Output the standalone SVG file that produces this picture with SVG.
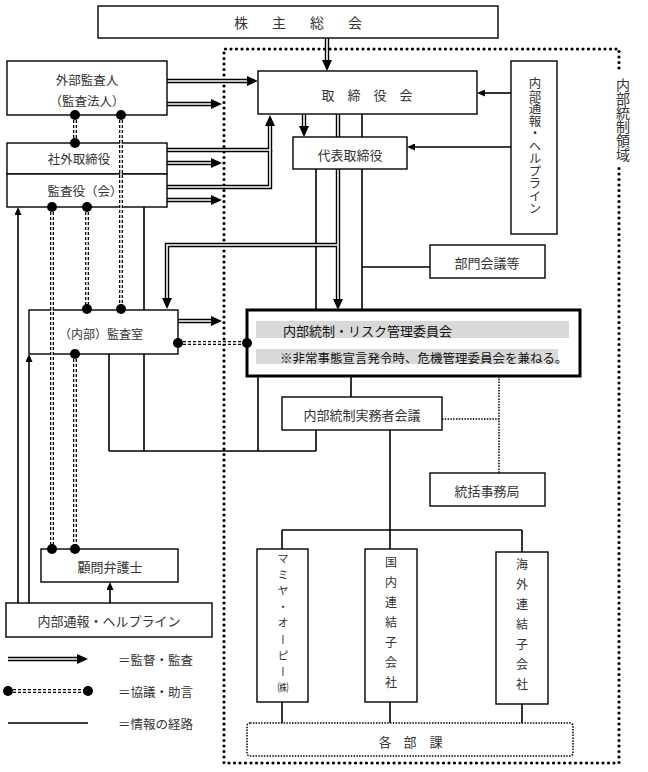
<svg xmlns="http://www.w3.org/2000/svg" width="648" height="772" viewBox="0 0 648 772">
<defs>
<style>
.box{fill:#fff;stroke:#000;stroke-width:1.4}
.t{font-family:"Noto Sans CJK JP","Noto Sans CJK SC",sans-serif;font-size:13px;fill:#333;text-anchor:middle;dominant-baseline:central}
.ts{font-family:"Noto Sans CJK JP","Noto Sans CJK SC",sans-serif;font-size:13px;fill:#222;dominant-baseline:central}
.v{font-family:"Noto Sans CJK JP","Noto Sans CJK SC",sans-serif;writing-mode:vertical-rl;fill:#333;font-size:12.5px}
.ln{fill:none;stroke:#000;stroke-width:1.6}
.dblo{fill:none;stroke:#000;stroke-width:4.4}
.dbli{fill:none;stroke:#fff;stroke-width:1.6}
.cso{fill:none;stroke:#000;stroke-width:4;stroke-dasharray:3 2}
.csi{fill:none;stroke:#fff;stroke-width:1.4}
.fd{fill:none;stroke:#000;stroke-width:1.5;stroke-dasharray:1.5 1.3}
.border{fill:none;stroke:#000;stroke-width:3.2;stroke-linecap:round;stroke-dasharray:0 5.5}
.gray{fill:#d9d9d9;stroke:none}
</style>
<marker id="ah" markerUnits="userSpaceOnUse" viewBox="0 -5 11 10" refX="0" refY="0" markerWidth="11" markerHeight="10" orient="auto"><path d="M0,-5L11,0L0,5z" fill="#000"/></marker>
<marker id="as" markerUnits="userSpaceOnUse" viewBox="0 -3.5 8 7" refX="0" refY="0" markerWidth="8" markerHeight="7" orient="auto"><path d="M0,-3.5L8,0L0,3.5z" fill="#000"/></marker>
</defs>
<rect width="648" height="772" fill="#fff"/>

<g id="region">
<path class="border" d="M619,68V49H224V763H619V167"/>
<text class="v" x="623" y="78" style="font-size:14px">内部統制領域</text>
</g>

<g id="connectors">
<path class="ln" d="M316,169V310M362,114V310M362,267H430M258,376V451M351,376V397M316,430V451M144,207V451M109,354V451M109,451H316M390,430V530M282,530H522M282,530V549M390,530V549M522,530V552M282,702V723M390,702V723M522,704V723"/>
<path class="ln" d="M511,93H485" marker-end="url(#as)"/>
<path class="ln" d="M511,147H415" marker-end="url(#as)"/>
<path class="ln" d="M18,603V215" marker-end="url(#as)"/>
<path class="ln" d="M29,603V362" marker-end="url(#as)"/>
<path class="ln" d="M110,603V590" marker-end="url(#as)"/>
<path class="fd" d="M442,419H499M499,376V473"/>
<g id="supervise-outer">
<path class="dblo" d="M327,38V60" marker-end="url(#ah)"/>
<path class="dblo" d="M167,81H247" marker-end="url(#ah)"/>
<path class="dblo" d="M167,104H211" marker-end="url(#ah)"/>
<path class="dblo" d="M167,150H270V126" marker-end="url(#ah)"/>
<path class="dblo" d="M167,187H270V150"/>
<path class="dblo" d="M167,163H211" marker-end="url(#ah)"/>
<path class="dblo" d="M167,200H211" marker-end="url(#ah)"/>
<path class="dblo" d="M304,114V126" marker-end="url(#ah)"/>
<path class="dblo" d="M338,114V299" marker-end="url(#ah)"/>
<path class="dblo" d="M338,245H167V298" marker-end="url(#ah)"/>
<path class="dblo" d="M178,321H211" marker-end="url(#ah)"/>
</g>
<g id="supervise-inner">
<path class="dbli" d="M327,38V60"/>
<path class="dbli" d="M167,81H247"/>
<path class="dbli" d="M167,104H211"/>
<path class="dbli" d="M167,150H270V126"/>
<path class="dbli" d="M167,187H270V150"/>
<path class="dbli" d="M167,163H211"/>
<path class="dbli" d="M167,200H211"/>
<path class="dbli" d="M304,114V126"/>
<path class="dbli" d="M338,114V299"/>
<path class="dbli" d="M337,245H167V298"/>
<path class="dbli" d="M178,321H211"/>
</g>
</g>

<g id="n-shareholders"><rect class="box" x="98" y="6" width="400" height="32"/><text class="t" x="241 279 317 355" y="22" style="font-size:14px">株主総会</text></g>
<g id="n-external-auditor"><rect class="box" x="7" y="61" width="160" height="54"/><text class="t" x="87" y="79" style="font-size:12.5px">外部監査人</text><text class="t" x="87" y="100" style="font-size:12.5px">（監査法人）</text></g>
<g id="n-outside-director"><rect class="box" x="7" y="143" width="160" height="31"/><text class="t" x="79" y="158" style="font-size:12.5px">社外取締役</text></g>
<g id="n-auditor"><rect class="box" x="7" y="174" width="160" height="33"/><text class="t" x="85" y="190" style="font-size:12.5px">監査役（会）</text></g>
<g id="n-board"><rect class="box" x="258" y="71" width="219" height="43"/><text class="t" x="328 354 380 406" y="94">取締役会</text></g>
<g id="n-president"><rect class="box" x="293" y="137" width="114" height="32"/><text class="t" x="350" y="154">代表取締役</text></g>
<g id="n-helpline-right"><rect class="box" x="511" y="61" width="46" height="173"/><text class="v" x="535" y="77">内部通報・ヘルプライン</text></g>
<g id="n-dept-meeting"><rect class="box" x="430" y="245" width="115" height="33"/><text class="t" x="487" y="262">部門会議等</text></g>
<g id="n-audit-office"><rect class="box" x="29" y="310" width="149" height="44"/><text class="t" x="101" y="333" style="font-size:12px">（内部）監査室</text></g>
<g id="n-committee"><rect x="247" y="310" width="333" height="66" fill="#fff" stroke="#000" stroke-width="3"/><rect class="gray" x="256" y="321" width="313" height="17"/><rect class="gray" x="256" y="349" width="302" height="15"/><text class="ts" x="283" y="330" style="fill:#111">内部統制・リスク管理委員会</text><text class="ts" x="280" y="357" style="font-size:12.5px;fill:#111">※非常事態宣言発令時、危機管理委員会を兼ねる。</text></g>
<g id="n-practitioners"><rect class="box" x="282" y="397" width="160" height="33"/><text class="t" x="362" y="414">内部統制実務者会議</text></g>
<g id="n-secretariat"><rect class="box" x="430" y="473" width="115" height="33"/><text class="t" x="487" y="490">統括事務局</text></g>
<g id="n-mamiya"><rect class="box" x="257" y="549" width="51" height="153"/><text class="v" x="283" y="553" style="font-size:11px;letter-spacing:5.2px">マミヤ・オーピー㈱</text></g>
<g id="n-domestic"><rect class="box" x="365" y="549" width="52" height="153"/><text class="v" x="391" y="556" style="font-size:12px;letter-spacing:8px">国内連結子会社</text></g>
<g id="n-overseas"><rect class="box" x="496" y="552" width="52" height="152"/><text class="v" x="522" y="558" style="font-size:12px;letter-spacing:8px">海外連結子会社</text></g>
<g id="n-departments"><rect x="247" y="723" width="326" height="33" rx="3" fill="#fff" class="fd"/><text class="t" x="385 410 436" y="741">各部課</text></g>
<g id="n-lawyer"><rect class="box" x="41" y="549" width="137" height="33"/><text class="t" x="110" y="566">顧問弁護士</text></g>
<g id="n-helpline-bottom"><rect class="box" x="6" y="603" width="206" height="34"/><text class="t" x="109" y="620">内部通報・ヘルプライン</text></g>

<g id="consult">
<path class="cso" d="M75,115V143M121,115V309M52,207V549M87,207V309M75,354V549M178,343H247"/>
<path class="csi" d="M75,115V143M121,115V309M52,207V549M87,207V309M75,354V549M178,343H247"/>
<g fill="#000">
<circle cx="75" cy="115" r="5"/><circle cx="75" cy="143" r="5"/>
<circle cx="121" cy="115" r="5"/><circle cx="121" cy="309" r="5"/>
<circle cx="52" cy="207" r="5"/><circle cx="52" cy="549" r="5"/>
<circle cx="87" cy="207" r="5"/><circle cx="87" cy="309" r="5"/>
<circle cx="75" cy="354" r="5"/><circle cx="75" cy="549" r="5"/>
<circle cx="178" cy="343" r="5"/><circle cx="247" cy="343" r="5"/>
</g>
</g>

<g id="legend">
<path class="dblo" d="M8,659H77" marker-end="url(#ah)"/>
<path class="dbli" d="M8,659H77"/>
<text class="ts" x="118" y="659" style="font-size:12.5px;fill:#333">＝監督・監査</text>
<path class="cso" d="M8,691H88"/>
<path class="csi" d="M8,691H88"/>
<circle cx="8" cy="691" r="5"/><circle cx="88" cy="691" r="5"/>
<text class="ts" x="118" y="691" style="font-size:12.5px;fill:#333">＝協議・助言</text>
<path class="ln" d="M8,723H88"/>
<text class="ts" x="118" y="723" style="font-size:12.5px;fill:#333">＝情報の経路</text>
</g>
</svg>
